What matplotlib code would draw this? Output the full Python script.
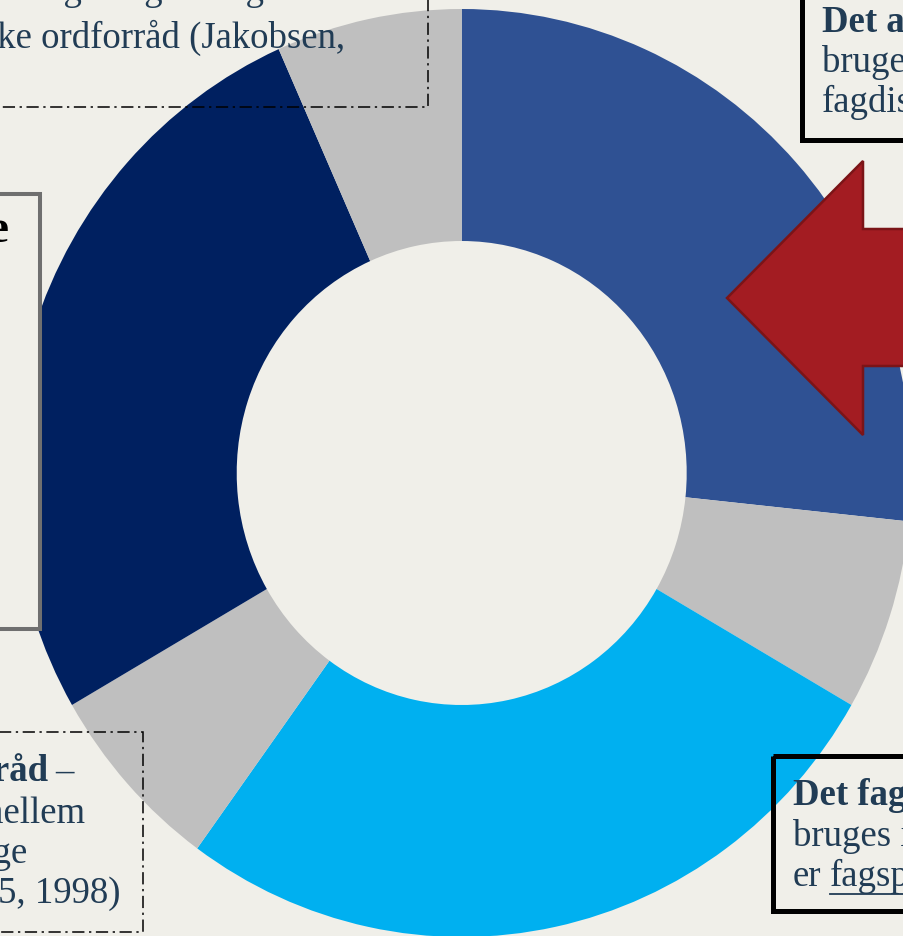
import matplotlib.pyplot as plt
from matplotlib.patches import Rectangle, Polygon

# ring segments, clockwise from 12 o'clock
segments = ['almene', 'overgang 1', 'fagspecifikke', 'overgang 2', 'førfaglige', 'overgang 3']
shares = [4, 1, 4, 1, 4, 1]
colors = ['#2F5193', '#BFBFBF', '#00B0F0', '#BFBFBF', '#002060', '#BFBFBF']

bg = '#F0EFE9'
txt = '#213C55'
serif = ['Liberation Serif', 'DejaVu Serif']
fs = 26.5

W, H = 904, 937
fig = plt.figure(figsize=(W / 100, H / 100), dpi=100)
fig.patch.set_facecolor(bg)

# donut (slightly taller than wide, as on the slide)
cx, cy, rx, ry = 461.7, 474, 450, 464
pax = fig.add_axes([(cx - rx) / W, (H - cy - ry) / H, 2 * rx / W, 2 * ry / H])
pax.pie(shares, colors=colors, startangle=90, counterclock=False,
        wedgeprops=dict(width=0.5, linewidth=0), radius=1)
pax.set_aspect('auto')
pax.set_xlim(-1, 1)
pax.set_ylim(-1, 1)
pax.axis('off')

# overlay in pixel coordinates
ax = fig.add_axes([0, 0, 1, 1], zorder=2)
ax.set_xlim(0, W)
ax.set_ylim(H, 0)
ax.axis('off')
ax.patch.set_visible(False)

dashdot = (0, (8, 3, 1.5, 3))

# top-left box (dash-dot, no fill)
ax.add_patch(Rectangle((-20, -20), 448, 128, fill=False, ec='black', lw=1.1, ls=dashdot))
ax.text(380, 0, 'ord, der bruges i hverdagen og i det generelle', family=serif,
        fontsize=fs, color=txt, ha='right', va='baseline')
ax.text(345, 48, 'det fagspecifikke ordforråd (Jakobsen,', family=serif,
        fontsize=fs, color=txt, ha='right', va='baseline')

# left box (grey border, filled)
ax.add_patch(Rectangle((-20, 195), 60, 435, fc=bg, ec='#6F6F6F', lw=2.9))
ax.text(9, 242, 'Hverdagsordforråde', family=serif, fontsize=34, color='black',
        fontweight='bold', ha='right', va='baseline')

# bottom-left box (dash-dot)
ax.add_patch(Rectangle((-20, 733), 163, 200, fill=False, ec='black', lw=1.1, ls=dashdot))
ax.text(48, 781, 'Det førfaglige ordforråd', family=serif, fontsize=fs, color=txt,
        fontweight='bold', ha='right', va='baseline')
ax.text(55, 781, '–', family=serif, fontsize=fs, color=txt, ha='left', va='baseline')
ax.text(85, 823, 'ord, der ligger mellem', family=serif, fontsize=fs, color=txt,
        ha='right', va='baseline')
ax.text(27, 863, 'hverdagssprog og faglige', family=serif, fontsize=fs, color=txt,
        ha='right', va='baseline')
ax.text(121, 903, '(Jakobsen, 2005, 1998)', family=serif, fontsize=fs, color=txt,
        ha='right', va='baseline')

# top-right box
ax.add_patch(Rectangle((802, -20), 200, 161, fill=False, ec='black', lw=3.6))
ax.text(822, 32, 'Det almene ordforråd', family=serif, fontsize=fs, color=txt,
        fontweight='bold', ha='left', va='baseline')
ax.text(822, 72, 'bruges i alle', family=serif, fontsize=fs, color=txt, ha='left', va='baseline')
ax.text(822, 112, 'fagdiscipliner', family=serif, fontsize=fs, color=txt, ha='left', va='baseline')

# bottom-right box
ax.add_patch(Rectangle((773, 757), 200, 155, fill=False, ec='black', lw=3.6))
ax.text(793, 805, 'Det fagspecifikke ordforråd', family=serif, fontsize=fs, color=txt,
        fontweight='bold', ha='left', va='baseline')
ax.text(793, 846, 'bruges i faget og', family=serif, fontsize=fs, color=txt, ha='left', va='baseline')
ax.text(793, 886, 'er', family=serif, fontsize=fs, color=txt, ha='left', va='baseline')
ax.text(830, 886, 'fagsprog', family=serif, fontsize=fs, color=txt, ha='left', va='baseline')
ax.plot([830, 910], [895, 895], color=txt, lw=1.3)

# red arrow pointing at the ring
arrow = [(727, 299), (863, 162), (863, 230), (920, 230), (920, 367), (863, 367), (863, 436)]
ax.add_patch(Polygon(arrow, closed=True, fc='#A31C22', ec='#7B1417', lw=1.8))

fig.savefig('out.png', dpi=100, facecolor=bg)
